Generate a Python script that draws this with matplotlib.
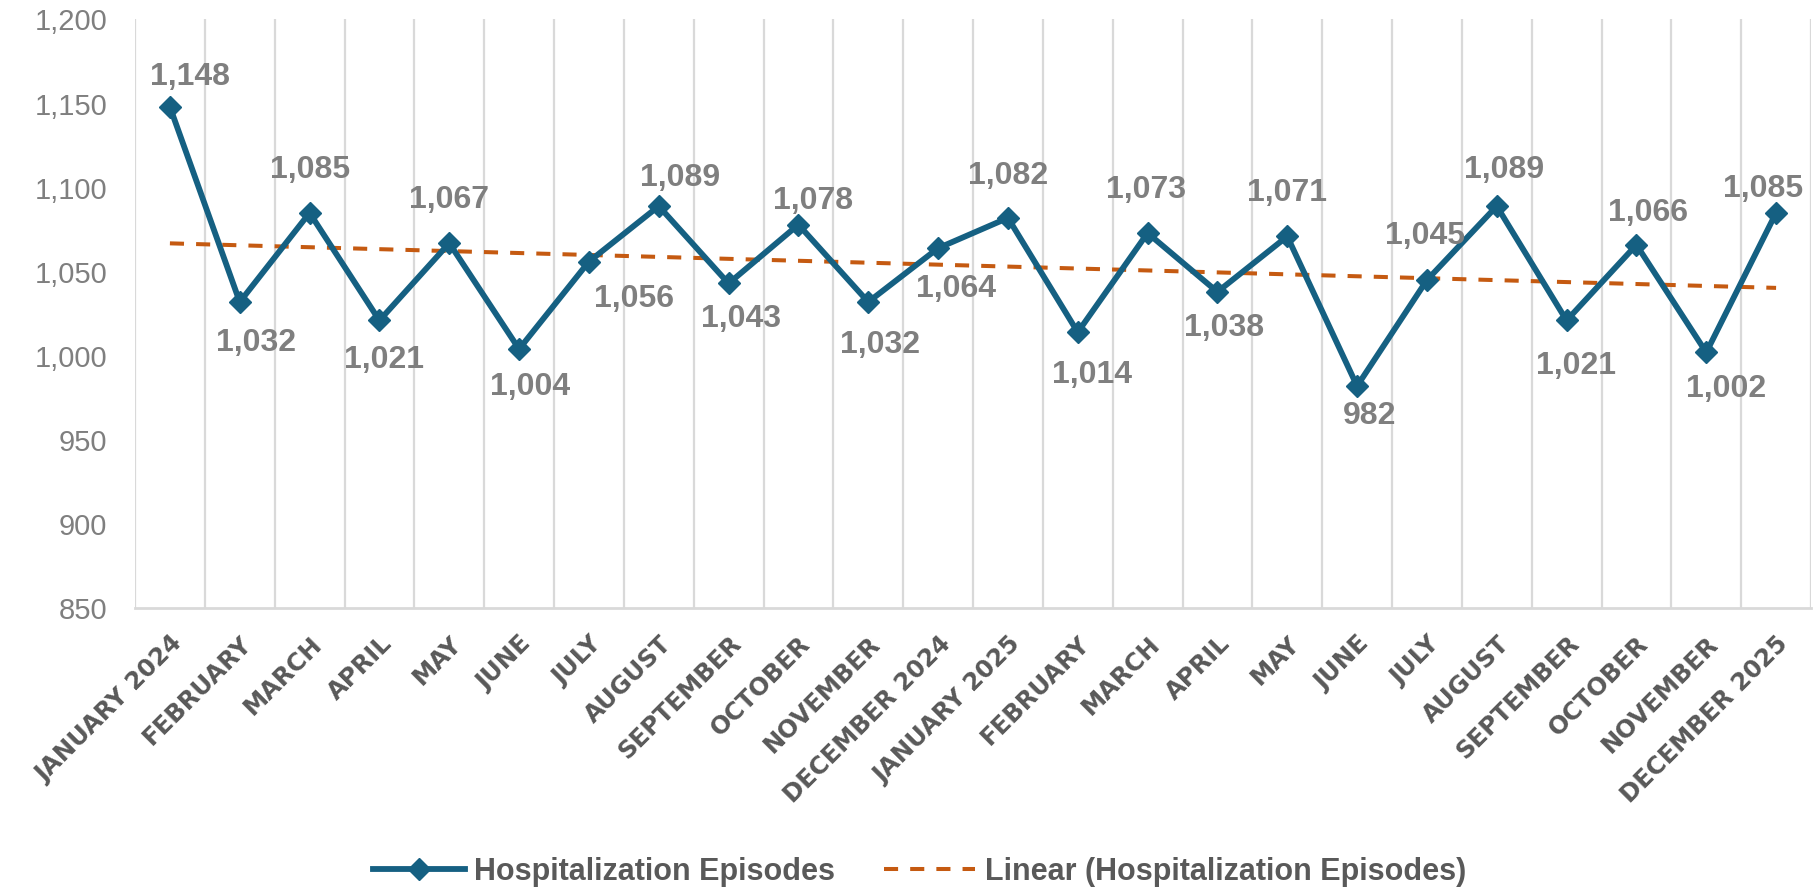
import numpy as np
import matplotlib
matplotlib.use("Agg")
import matplotlib.pyplot as plt

months = ["JANUARY 2024", "FEBRUARY", "MARCH", "APRIL", "MAY", "JUNE", "JULY",
          "AUGUST", "SEPTEMBER", "OCTOBER", "NOVEMBER", "DECEMBER 2024",
          "JANUARY 2025", "FEBRUARY", "MARCH", "APRIL", "MAY", "JUNE", "JULY",
          "AUGUST", "SEPTEMBER", "OCTOBER", "NOVEMBER", "DECEMBER 2025"]
episodes = [1148, 1032, 1085, 1021, 1067, 1004, 1056, 1089, 1043, 1078, 1032, 1064,
            1082, 1014, 1073, 1038, 1071, 982, 1045, 1089, 1021, 1066, 1002, 1085]
y_ticks = [850, 900, 950, 1000, 1050, 1100, 1150, 1200]

# label offsets (pixels) as placed in the original
label_offsets = [(20, 34), (16, -37), (0, 47), (5, -36), (0, 47), (11, -34),
                 (45, -33), (21, 32), (12, -32), (15, 28), (12, -39), (18, -37),
                 (0, 46), (14, -39), (-2, 47), (7, -32), (0, 47), (12, -26),
                 (-2, 48), (7, 40), (9, -42), (12, 36), (20, -33), (-13, 28)]

BLUE = "#156082"
ORANGE = "#C55A11"
GRID = "#D9D9D9"

plt.rcParams['font.family'] = ['Liberation Sans', 'DejaVu Sans']

fig = plt.figure(figsize=(18.17, 8.92), dpi=100)
ax = fig.add_axes([135 / 1817, 1 - 608 / 892, (1811 - 135) / 1817, (608 - 19.5) / 892])

x = np.arange(len(episodes))
ax.plot(x, episodes, color=BLUE, lw=4.2, marker='D', markersize=11, mew=1,
        mec=BLUE, mfc=BLUE, label="Hospitalization Episodes", zorder=3)

coef = np.polyfit(x, episodes, 1)
trend = np.polyval(coef, x)
ax.plot(x, trend, color=ORANGE, lw=2.9, dashes=(3.5, 3.0),
        label="Linear (Hospitalization Episodes)", zorder=2)

for i, v in enumerate(episodes):
    dx, dy = label_offsets[i]
    ax.annotate(f"{v:,}", (i, v), xytext=(dx, dy - 12), textcoords='offset pixels',
                ha='center', va='baseline', fontsize=23, fontweight='bold',
                color='#7F7F7F', zorder=4)

ax.set_xlim(-0.5, len(episodes) - 0.5)
ax.set_ylim(850, 1200)
ax.set_yticks(y_ticks)
ax.set_yticklabels([f"{t:,}" for t in y_ticks])
ax.tick_params(axis='y', length=0, pad=20, labelsize=21, labelcolor='#7F7F7F')

ax.set_xticks(x)
ax.set_xticklabels(months, rotation=45, ha='right', va='top', rotation_mode='anchor',
                   fontsize=17.5, fontweight='bold', color='#595959', family='DejaVu Sans')
ax.tick_params(axis='x', length=0, pad=17)

for b in np.arange(-0.5, len(episodes), 1.0):
    ax.axvline(b, color=GRID, lw=1.6, zorder=1)

for s in ['top', 'right', 'left']:
    ax.spines[s].set_visible(False)
ax.spines['bottom'].set_color(GRID)
ax.spines['bottom'].set_linewidth(2)

leg = fig.legend(loc='center', bbox_to_anchor=(0.506, 1 - 872 / 892), ncol=2,
                 frameon=False, handlelength=3.0, handletextpad=0.3, columnspacing=1.6,
                 prop={'size': 22, 'weight': 'bold'})
for t in leg.get_texts():
    t.set_color('#595959')

fig.savefig("out.png", dpi=100)
